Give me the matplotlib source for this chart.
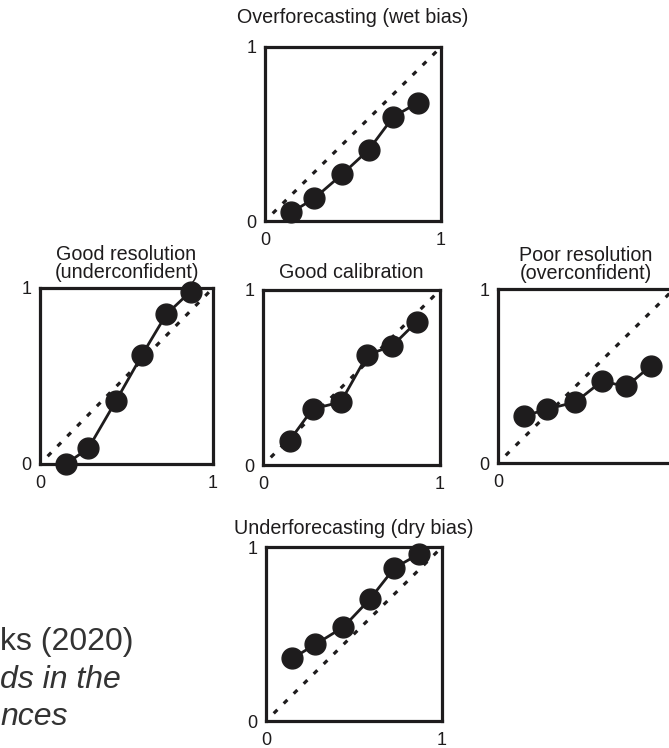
import numpy as np
import matplotlib.pyplot as plt

plt.rcParams['font.family'] = ['Liberation Sans', 'DejaVu Sans']

# forecast probability bins (same for every panel)
fcst = [0.15, 0.28, 0.44, 0.59, 0.73, 0.87]

# observed relative frequency per panel
obs_wet = [0.05, 0.13, 0.27, 0.41, 0.60, 0.68]
obs_under = [0.00, 0.09, 0.36, 0.62, 0.85, 0.98]
obs_calib = [0.14, 0.32, 0.36, 0.63, 0.68, 0.82]
obs_over = [0.27, 0.31, 0.35, 0.47, 0.44, 0.56]
obs_dry = [0.36, 0.44, 0.54, 0.70, 0.88, 0.96]

titles = ['Overforecasting (wet bias)', 'Good resolution\n(underconfident)',
          'Good calibration', 'Poor resolution\n(overconfident)',
          'Underforecasting (dry bias)']
tick_labels = ['0', '1']

ink = '#1e1c1d'
W, H = 669, 748
fig = plt.figure(figsize=(W / 100, H / 100), dpi=100)

def px_axes(x0, y0, x1, y1):
    return fig.add_axes([x0 / W, 1 - y1 / H, (x1 - x0) / W, (y1 - y0) / H])

panels = [
    (px_axes(265, 47, 441, 221), obs_wet, titles[0], 17),
    (px_axes(40, 288, 213, 464), obs_under, titles[1], 7),
    (px_axes(263, 290, 440, 465), obs_calib, titles[2], 9),
    (px_axes(498, 289, 674, 463), obs_over, titles[3], 7),
    (px_axes(266, 547, 442, 721), obs_dry, titles[4], 9),
]

for ax, obs, title, pad in panels:
    ax.plot([0, 1], [0, 1], color=ink, lw=2.3, linestyle=(1.0, (1.6, 2.8)))
    ax.plot(fcst, obs, color=ink, lw=2.0, marker='o', markersize=15,
            markerfacecolor=ink, markeredgecolor=ink, clip_on=False, zorder=3)
    ax.set_xlim(0, 1)
    ax.set_ylim(0, 1)
    ax.set_xticks([0, 1])
    ax.set_yticks([0, 1])
    ax.set_xticklabels(tick_labels)
    ax.set_yticklabels(tick_labels)
    ax.tick_params(length=0, labelsize=13, colors=ink)
    ax.tick_params(axis='x', pad=8)
    ax.tick_params(axis='y', pad=6)
    for s in ax.spines.values():
        s.set_linewidth(2.3)
        s.set_color(ink)
    ax.set_title(title, fontsize=14.2, color=ink, pad=pad, linespacing=0.92)

# reference text from the slide, cut by the left edge
fig.text(0, 1 - 642 / H, 'ks (2020)', fontsize=23, color='#333333', va='center', ha='left')
fig.text(0, 1 - 680 / H, 'ds in the', fontsize=23, color='#333333', va='center', ha='left', style='italic')
fig.text(0, 1 - 717 / H, 'nces', fontsize=23, color='#333333', va='center', ha='left', style='italic')

fig.savefig('out.png', dpi=100)
